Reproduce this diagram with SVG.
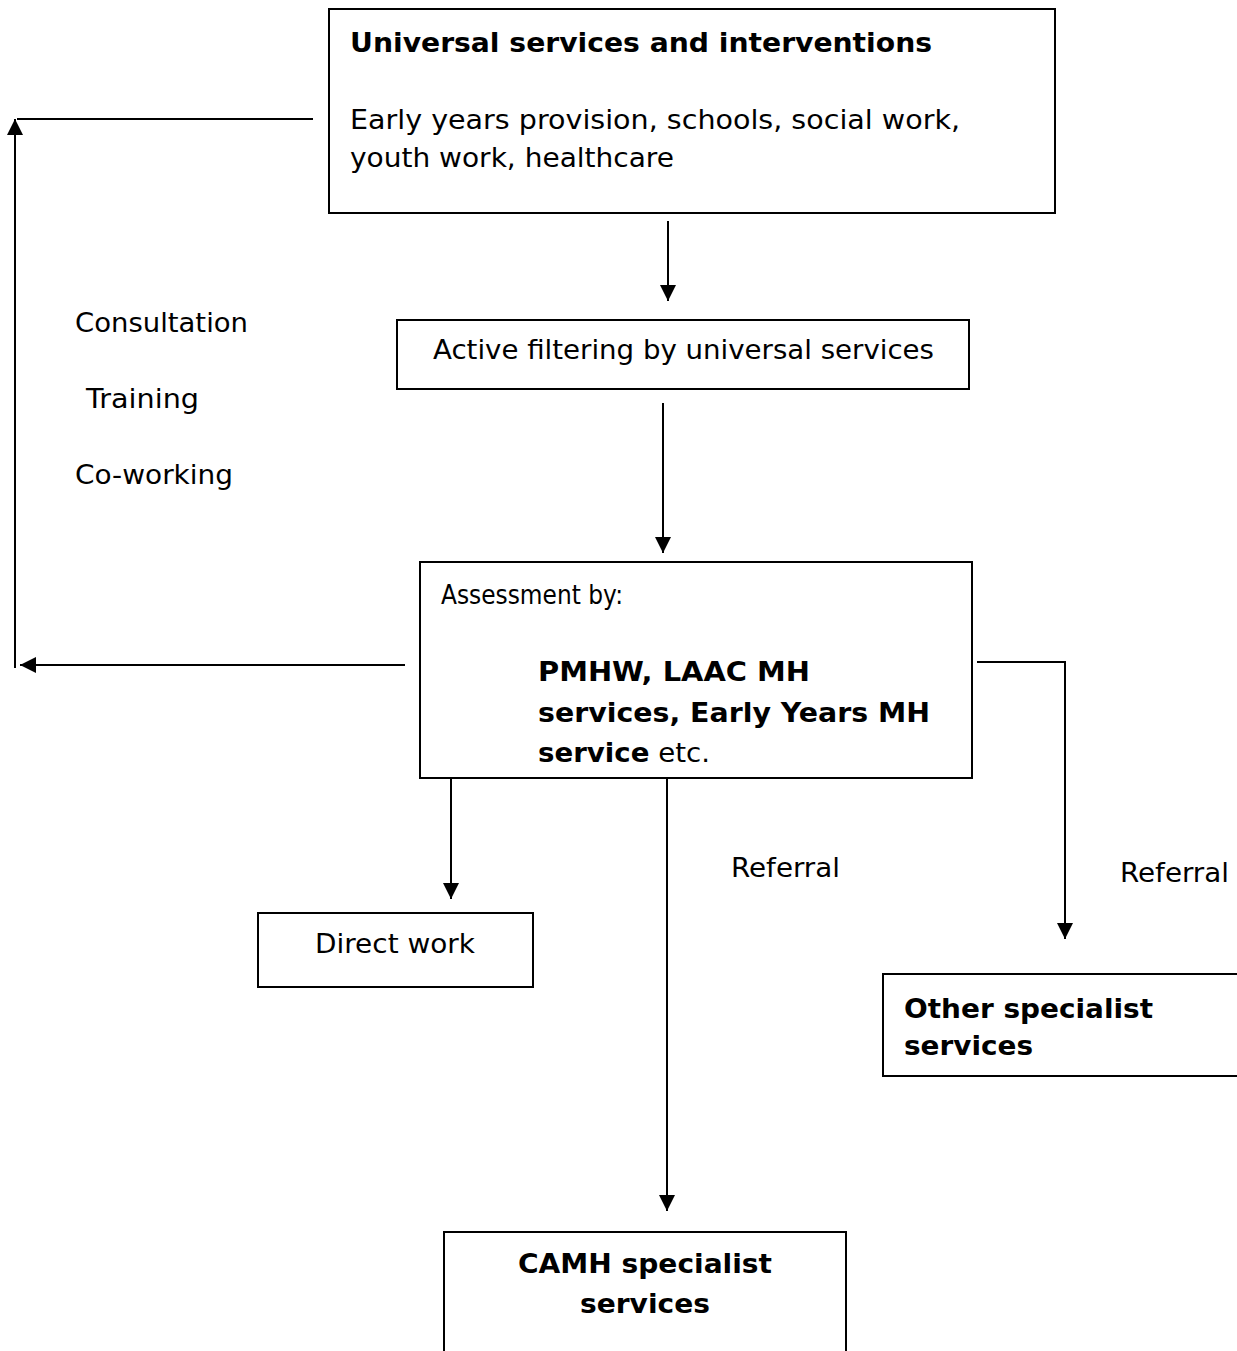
<svg xmlns="http://www.w3.org/2000/svg" width="1237" height="1351" viewBox="0 0 1237 1351">
<defs>
<marker id="ah" viewBox="0 0 16 16" refX="16" refY="8" markerWidth="16" markerHeight="16" markerUnits="userSpaceOnUse" orient="auto">
<path d="M0,0 L16,8 L0,16 z" fill="#000"/>
</marker>
<style>
.box{fill:#fff;stroke:#000;stroke-width:2}
.ln{fill:none;stroke:#000;stroke-width:2}
.t{font-family:"DejaVu Sans",sans-serif;font-size:26px;fill:#000}
.b{font-weight:bold}
</style>
</defs>
<rect width="1237" height="1351" fill="#fff"/>
<g id="connectors">
<line class="ln" x1="313" y1="119" x2="17" y2="119"/>
<line class="ln" x1="15" y1="668" x2="15" y2="119" marker-end="url(#ah)"/>
<line class="ln" x1="405" y1="665" x2="20" y2="665" marker-end="url(#ah)"/>
<line class="ln" x1="668" y1="221" x2="668" y2="301" marker-end="url(#ah)"/>
<line class="ln" x1="663" y1="403" x2="663" y2="553" marker-end="url(#ah)"/>
<line class="ln" x1="451" y1="779" x2="451" y2="899" marker-end="url(#ah)"/>
<line class="ln" x1="667" y1="779" x2="667" y2="1211" marker-end="url(#ah)"/>
<polyline class="ln" points="977,662 1065,662 1065,939" marker-end="url(#ah)"/>
<text class="t" x="731" y="877" textLength="109" lengthAdjust="spacingAndGlyphs">Referral</text>
<text class="t" x="1120" y="882" textLength="109" lengthAdjust="spacingAndGlyphs">Referral</text>
<text class="t" x="75" y="332" textLength="173" lengthAdjust="spacingAndGlyphs">Consultation</text>
<text class="t" x="86" y="408" textLength="113" lengthAdjust="spacingAndGlyphs">Training</text>
<text class="t" x="75" y="484" textLength="158" lengthAdjust="spacingAndGlyphs">Co-working</text>
</g>
<g id="universal">
<rect class="box" x="329" y="9" width="726" height="204"/>
<text class="t b" x="350" y="52" textLength="582" lengthAdjust="spacingAndGlyphs">Universal services and interventions</text>
<text class="t" x="350" y="129" textLength="610" lengthAdjust="spacingAndGlyphs">Early years provision, schools, social work,</text>
<text class="t" x="350" y="167" textLength="324" lengthAdjust="spacingAndGlyphs">youth work, healthcare</text>
</g>
<g id="filtering">
<rect class="box" x="397" y="320" width="572" height="69"/>
<text class="t" x="433" y="359" textLength="501" lengthAdjust="spacingAndGlyphs">Active filtering by universal services</text>
</g>
<g id="assessment">
<rect class="box" x="420" y="562" width="552" height="216"/>
<text class="t" x="441" y="604" textLength="182" lengthAdjust="spacingAndGlyphs">Assessment by:</text>
<text class="t b" x="538" y="681" textLength="272" lengthAdjust="spacingAndGlyphs">PMHW, LAAC MH</text>
<text class="t b" x="538" y="722" textLength="392" lengthAdjust="spacingAndGlyphs">services, Early Years MH</text>
<text class="t" x="538" y="762" textLength="172" lengthAdjust="spacingAndGlyphs"><tspan class="b">service</tspan> etc.</text>
</g>
<g id="direct">
<rect class="box" x="258" y="913" width="275" height="74"/>
<text class="t" x="315" y="953" textLength="160" lengthAdjust="spacingAndGlyphs">Direct work</text>
</g>
<g id="other">
<rect class="box" x="883" y="974" width="360" height="102"/>
<text class="t b" x="904" y="1018" textLength="249" lengthAdjust="spacingAndGlyphs">Other specialist</text>
<text class="t b" x="904" y="1055" textLength="129" lengthAdjust="spacingAndGlyphs">services</text>
</g>
<g id="camh">
<rect class="box" x="444" y="1232" width="402" height="130"/>
<text class="t b" x="518" y="1273" textLength="254" lengthAdjust="spacingAndGlyphs">CAMH specialist</text>
<text class="t b" x="580" y="1313" textLength="130" lengthAdjust="spacingAndGlyphs">services</text>
</g>
</svg>
